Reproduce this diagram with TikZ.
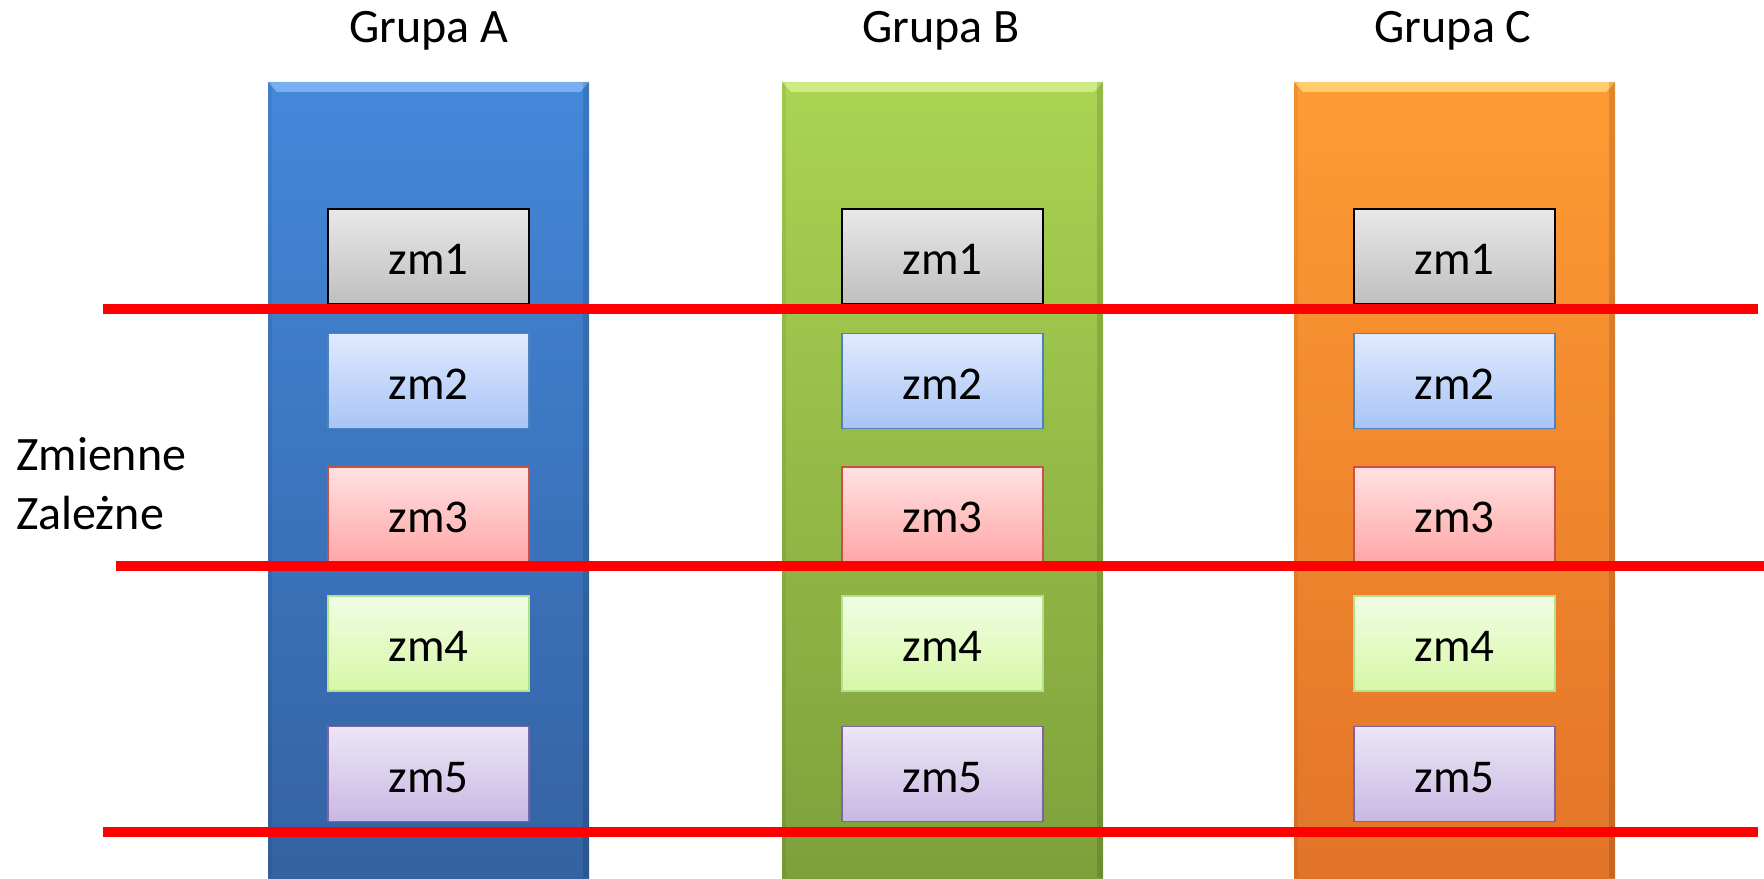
\documentclass[tikz,border=0pt]{standalone}
\usepackage{fontspec}
\setmainfont{Carlito}
\definecolor{aTop}{RGB}{68,136,218}
\definecolor{aBot}{RGB}{52,98,162}
\definecolor{bTop}{RGB}{170,212,82}
\definecolor{bBot}{RGB}{126,160,60}
\definecolor{cTop}{RGB}{255,155,52}
\definecolor{cBot}{RGB}{226,116,40}
\definecolor{aHl}{RGB}{120,175,240}
\definecolor{bHl}{RGB}{205,235,130}
\definecolor{cHl}{RGB}{255,205,110}
\definecolor{redline}{RGB}{255,0,0}
\definecolor{twoD}{RGB}{79,129,189}
\definecolor{twoT}{RGB}{224,234,253}
\definecolor{twoB}{RGB}{168,196,246}
\definecolor{threeD}{RGB}{200,80,77}
\definecolor{threeT}{RGB}{255,225,225}
\definecolor{threeB}{RGB}{255,166,166}
\definecolor{fourD}{RGB}{180,225,140}
\definecolor{fourT}{RGB}{242,253,228}
\definecolor{fourB}{RGB}{214,247,166}
\definecolor{fiveD}{RGB}{128,100,162}
\definecolor{fiveT}{RGB}{236,230,247}
\definecolor{fiveB}{RGB}{200,184,226}
\tikzset{
  column/.style={draw=none, minimum width=321pt, minimum height=796pt, inner sep=0pt, rectangle},
  vbox/.style={minimum width=201pt, minimum height=95pt, inner sep=0pt, rectangle, text height=36pt, text depth=0pt, font=\fontsize{47}{50}\selectfont},
  zmone/.style={vbox, draw=black, line width=2pt, top color=gray!18, bottom color=gray!50},
  zmtwo/.style={vbox, draw=twoD, line width=1.2pt, top color=twoT, bottom color=twoB},
  zmthree/.style={vbox, draw=threeD, line width=1.2pt, top color=threeT, bottom color=threeB},
  zmfour/.style={vbox, draw=fourD, line width=1.2pt, top color=fourT, bottom color=fourB},
  zmfive/.style={vbox, draw=fiveD, line width=1.2pt, top color=fiveT, bottom color=fiveB},
  title/.style={inner sep=0pt, font=\fontsize{48}{59}\selectfont},
  sep/.style={draw=redline, line width=10pt},
}
\begin{document}
\begin{tikzpicture}[x=1pt,y=-1pt]
\useasboundingbox (0,0) rectangle (1764,878);
% columns
\node[column, top color=aTop, bottom color=aBot] (colA) at (428.5,480) {};
\node[column, top color=bTop, bottom color=bBot] (colB) at (942.5,480) {};
\node[column, top color=cTop, bottom color=cBot] (colC) at (1454.5,480) {};
% bevel highlights and edge shadows
\foreach \c/\hl in {colA/aHl, colB/bHl, colC/cHl}{
  \fill[\hl] (\c.north west) -- (\c.north east) -- ([xshift=-9pt,yshift=-10pt]\c.north east) -- ([xshift=9pt,yshift=-10pt]\c.north west) -- cycle;
  \fill[black, opacity=0.12] ([xshift=-6pt]\c.north east) -- (\c.north east) -- (\c.south east) -- ([xshift=-6pt]\c.south east) -- cycle;
  \fill[black, opacity=0.06] (\c.north west) -- ([xshift=4pt]\c.north west) -- ([xshift=4pt]\c.south west) -- (\c.south west) -- cycle;
}
% titles
\node[title] (tA) at (429,31) {Grupa A};
\node[title] (tB) at (941,31) {Grupa B};
\node[title] (tC) at (1453,31) {Grupa C};
% variable boxes
\foreach \c/\x in {A/428.5, B/942.5, C/1454.5}{
  \node[zmone]   (zm1\c) at (\x,256.5) {zm1};
  \node[zmtwo]   (zm2\c) at (\x,381) {zm2};
  \node[zmthree] (zm3\c) at (\x,514.5) {zm3};
  \node[zmfour]  (zm4\c) at (\x,643.5) {zm4};
  \node[zmfive]  (zm5\c) at (\x,774) {zm5};
}
% side label
\node[title, anchor=west, align=left] (lab) at (16,484) {Zmienne\\Zależne};
% red separators
\coordinate (l1s) at (103,309);  \coordinate (l1e) at (1758,309);
\coordinate (l2s) at (116,566);  \coordinate (l2e) at (1764,566);
\coordinate (l3s) at (103,832);  \coordinate (l3e) at (1758,832);
\draw[sep] (l1s) -- (l1e);
\draw[sep] (l2s) -- (l2e);
\draw[sep] (l3s) -- (l3e);
\end{tikzpicture}
\end{document}
